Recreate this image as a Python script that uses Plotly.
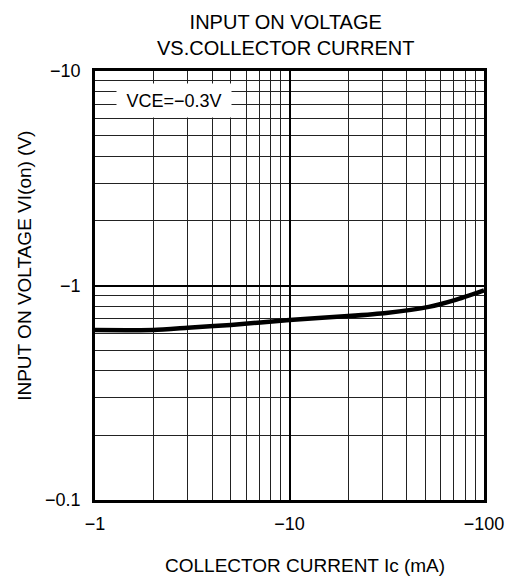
import plotly.graph_objects as go

# Data (magnitudes; displayed as negative values)
ic_ma = [1, 2, 3, 5, 10, 20, 31.4, 52, 70.7, 100]
vi_on = [0.62, 0.62, 0.635, 0.655, 0.69, 0.72, 0.745, 0.795, 0.855, 0.95]

x_ticks = [1, 10, 100]
x_ticklabels = ["\u22121", "\u221210", "\u2212100"]
y_ticks = [0.1, 1, 10]
y_ticklabels = ["\u22120.1", "\u22121", "\u221210"]

x_minor = [m * d for d in (1, 10) for m in range(2, 10)]
y_minor = [m * d for d in (0.1, 1) for m in range(2, 10)]

FONT = "Liberation Sans, Arial, sans-serif"

fig = go.Figure()
fig.add_trace(go.Scatter(
    x=ic_ma, y=vi_on, mode="lines",
    line=dict(color="black", width=4.5, shape="spline", smoothing=0.6),
    showlegend=False, hoverinfo="skip",
))

# Condition label
fig.add_annotation(
    x=0.2035, y=0.932, xref="paper", yref="paper",
    text="VCE=\u22120.3V", showarrow=False,
    font=dict(family=FONT, size=18, color="black"),
    bgcolor="white", width=114, height=33, borderpad=0,
    xanchor="center", yanchor="middle", align="center",
)

# Title
fig.add_annotation(
    x=0.490, y=1.084, xref="paper", yref="paper",
    text="INPUT ON VOLTAGE<br>VS.COLLECTOR CURRENT", showarrow=False,
    font=dict(family=FONT, size=20, color="black"),
    xanchor="center", yanchor="middle", align="center",
)

# Axis titles
fig.add_annotation(
    x=0.540, y=-0.1538, xref="paper", yref="paper",
    text="COLLECTOR CURRENT Ic (mA)", showarrow=False,
    font=dict(family=FONT, size=19, color="black"),
    xanchor="center", yanchor="middle",
)
fig.add_annotation(
    x=-0.1809, y=0.545, xref="paper", yref="paper",
    text="INPUT ON VOLTAGE VI(on) (V)", showarrow=False, textangle=-90,
    font=dict(family=FONT, size=19, color="black"),
    xanchor="center", yanchor="middle",
)

fig.update_layout(
    width=516, height=581,
    margin=dict(l=95, r=23, t=71, b=81),
    paper_bgcolor="white", plot_bgcolor="white",
    font=dict(family=FONT, size=18, color="black"),
)

fig.update_xaxes(
    type="log", range=[0, 2],
    tickvals=x_ticks, ticktext=x_ticklabels, ticks="",
    ticklabelstandoff=6,
    showgrid=True, gridcolor="black", gridwidth=2,
    minor=dict(tickvals=x_minor, showgrid=True, gridcolor="#222", gridwidth=1, ticks=""),
    showline=True, linecolor="black", linewidth=2.5, mirror=True,
    zeroline=False,
    tickfont=dict(family=FONT, size=18),
)
fig.update_yaxes(
    type="log", range=[-1, 1],
    tickvals=y_ticks, ticktext=y_ticklabels, ticks="",
    ticklabelstandoff=8,
    showgrid=True, gridcolor="black", gridwidth=2,
    minor=dict(tickvals=y_minor, showgrid=True, gridcolor="#222", gridwidth=1, ticks=""),
    showline=True, linecolor="black", linewidth=2.5, mirror=True,
    zeroline=False,
    tickfont=dict(family=FONT, size=18),
)

fig.write_html(
    "out.html",
    config={"displayModeBar": False},
    post_script="document.body.style.margin='0';document.body.style.overflow='hidden';",
)
